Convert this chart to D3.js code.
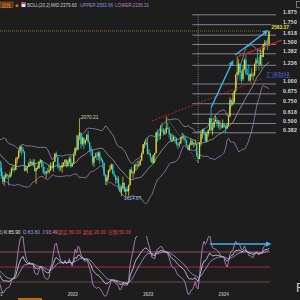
<!DOCTYPE html>
<html><head><meta charset="utf-8">
<script src="https://cdn.jsdelivr.net/npm/d3@7"></script>
<style>html,body{margin:0;padding:0;background:#1d1d1d;overflow:hidden}svg{display:block}</style>
</head><body><svg id="c" width="300" height="300"></svg>
<script>
// ---------- DATA (weekly gold, USD) ----------
const firstWeekFrom = new Date(2020, 9, 1), lastWeekTo = new Date(2024, 8, 14);
const firstOpen = 1886;
const weekClose = [
 1900,1930,1899,1902,1879, 1951,1889,1871,1788, 1838,1840,1882,1877,
 1895,1849,1828,1856,1848, 1814,1824,1784,1734, 1700,1727,1745,1733, 1729,1744,1777,1777,1769,
 1831,1843,1881,1905, 1891,1877,1764,1781, 1787,1808,1815,1802,1814, 1763,1780,1781,1817,
 1827,1787,1754,1750, 1761,1757,1768,1793,1783, 1818,1865,1846,1792, 1783,1783,1798,1811,1829,
 1797,1818,1835,1791, 1808,1859,1898,1889, 1970,1988,1921,1958, 1925,1945,1974,1931,1897,
 1883,1811,1846,1853, 1851,1871,1840,1827, 1811,1742,1703,1727,1766, 1775,1802,1747,1737,
 1712,1716,1675,1643,1660, 1695,1644,1657,1645, 1681,1771,1751,1755, 1797,1797,1793,1798,1824,
 1865,1920,1926,1928, 1865,1865,1842,1811, 1856,1868,1989,1978,1969, 2007,2004,1983,1990,
 2016,2011,1977,1946, 1948,1961,1958,1921,1919, 1925,1955,1962,1959, 1943,1913,1889,1915,
 1940,1919,1924,1925,1849, 1833,1932,1981,2006, 1992,1940,1981,2002, 2072,2004,2019,2053,2062,
 2045,2049,2029,2018, 2039,2024,2013,2035, 2083,2179,2155,2165,2233, 2329,2344,2392,2337,
 2301,2360,2415,2334,2327, 2293,2333,2322,2326, 2392,2411,2400,2386, 2443,2431,2507,2512,2503,
 2497,2580
];
const weekHigh = [
 1917,1933,1933,1933,1911, 1965,1966,1898,1875, 1848,1875,1896,1907,
 1900,1959,1863,1875,1876, 1875,1855,1825,1815, 1760,1739,1755,1745, 1740,1758,1785,1797,1790,
 1843,1846,1890,1913, 1916,1903,1878,1795, 1790,1818,1834,1823,1832, 1832,1782,1795,1822,
 1834,1827,1809,1787, 1764,1781,1800,1814,1810, 1819,1868,1877,1848, 1809,1793,1815,1815,1832,
 1831,1829,1848,1853, 1813,1865,1902,1974, 1974,2070.21,1950,1966, 1960,1948,1981,1998,1936,
 1910,1884,1849,1870, 1874,1877,1879,1848, 1832,1813,1745,1739,1768, 1794,1807,1802,1765,
 1740,1729,1735,1688,1676, 1730,1682,1669,1671, 1684,1774,1787,1763, 1804,1810,1824,1823,1833,
 1870,1922,1937,1949, 1960,1890,1870,1844, 1858,1870,1994,2009,1987, 2032,2049,2015,2009,
 2081,2048,2022,1985, 1983,1973,1971,1959,1933, 1935,1964,1987,1982, 1970,1948,1915,1925,
 1953,1945,1932,1947,1926, 1851,1934,1997,2009, 2010,1993,1993,2007, 2075,2135,2047,2071,2088,
 2078,2062,2062,2036, 2065,2042,2031,2041, 2088,2195,2185,2223,2236, 2331,2432,2418,2393,
 2352,2378,2422,2450,2364, 2388,2335,2368,2340, 2392,2425,2483,2432, 2477,2432,2509,2531,2526,
 2529,2583.37
];
const weekLow = [
 1848,1873,1885,1894,1860, 1877,1850,1853,1775, 1764,1820,1823,1855,
 1862,1827,1809,1826,1830, 1785,1808,1761,1717, 1687,1676,1718,1716, 1678,1721,1731,1764,1756,
 1768,1808,1835,1870, 1855,1867,1761,1767, 1750,1787,1793,1794,1789, 1758,1688,1772,1775,
 1809,1783,1745,1738, 1721,1745,1747,1763,1770, 1759,1815,1843,1778, 1762,1765,1753,1788,1790,
 1783,1786,1805,1781, 1788,1807,1850,1878, 1885,1950,1895,1910, 1890,1915,1941,1925,1872,
 1851,1798,1787,1840, 1828,1825,1805,1816, 1784,1732,1681,1681,1711, 1754,1771,1745,1727,
 1688,1691,1654,1639,1614.87, 1659,1640,1617,1639, 1617,1677,1747,1721, 1746,1765,1772,1785,1795,
 1824,1860,1896,1911, 1861,1860,1819,1809, 1804,1810,1867,1934,1944, 1949,1992,1969,1975,
 1978,2006,1952,1936, 1932,1940,1925,1910,1893, 1902,1919,1952,1942, 1929,1910,1885,1884,
 1912,1914,1901,1913,1846, 1810,1835,1908,1953, 1970,1932,1932,1965, 1999,1993,1973,2016,2050,
 2024,2013,2002,2010, 2016,2015,1984,2012, 2024,2078,2146,2146,2162, 2228,2326,2325,2291,
 2277,2291,2353,2326,2323, 2287,2287,2311,2293, 2318,2351,2393,2353, 2381,2364,2433,2470,2492,
 2471,2496
];
const yearTicks = ["2021","2022","2023","2024"];
const fibLevels = [0.382,0.5,0.618,0.75,0.875,1,1.236,1.382,1.5,1.618,1.75,1.875];
const fibLabels = ["0.382","0.500","0.618","0.750","0.875","1.000","1.236","1.382","1.500","1.618","1.750","1.875"];
const fibBase = 1810, fibTop = 2273;
const fibSpan = ["2023-09-08","2024-10-17"];
const fibAnchor = ["2023-10-06", 1810, 2678];
const bollHeader = ["BOLL(20,2)","MID:2379.60","UPPER:2563.96","LOWER:2195.31"];
const kdjHeader = ["K:85.90","D:83.80","J:93.49","超买:80.00","超卖:20.00","分割:50.00"];
const kdjLevels = [80,50,20];
const kdjParams = [18,5,5];
const lastPrice = 2583.37;
const redTrend = [["2024-04-12",2432],["2024-11-15",2530]];
const redDash = [["2023-02-25",2056],["2024-08-10",2305]];
const grayLeg = [["2023-05-05",2081],["2023-10-06",1810]];
const arrow1 = [["2023-12-08",2135],["2024-03-24",2413]];
const arrow2 = [["2024-04-02",2443],["2024-09-10",2589]];
const kdjArrow = [["2023-12-01",96],["2024-09-25",96]];

// ---------- SETUP ----------
const weeks = d3.timeFriday.range(firstWeekFrom, lastWeekTo);
if (weeks.length!==weekClose.length||weekHigh.length!==weekClose.length||weekLow.length!==weekClose.length)
  throw new Error("len "+weeks.length+" "+weekClose.length+" "+weekHigh.length+" "+weekLow.length);
const weekOpen = weekClose.map((c,i)=> i===0?firstOpen:weekClose[i-1]);
const P = d3.timeParse("%Y-%m-%d");
const svg = d3.select("#c");
const x = d3.scaleTime().domain([new Date(2022,0,1), new Date(2024,0,1)]).range([65.2,216.1]);
const y = d3.scaleLinear().domain([1810,2583.37]).range([163,31]);
const yk = d3.scaleLinear().domain([20,80]).range([282,252]);

svg.append("rect").attr("width",300).attr("height",300).attr("fill","#1d1d1d");
const defs = svg.append("defs");
defs.append("clipPath").attr("id","mc").append("rect").attr("x",0).attr("y",9).attr("width",300).attr("height",214);
defs.append("clipPath").attr("id","kc").append("rect").attr("x",0).attr("y",236).attr("width",300).attr("height",62);
const main = svg.append("g").attr("clip-path","url(#mc)");
const kp = svg.append("g").attr("clip-path","url(#kc)");

// ---------- BOLL ----------
const boll = [];
for (let i=19;i<weekClose.length;i++){
  const s = weekClose.slice(i-19,i+1);
  const m = d3.mean(s);
  const sd = Math.sqrt(d3.mean(s,v=>(v-m)*(v-m)));
  boll.push({d:weeks[i],mid:m,up:m+2*sd,lo:m-2*sd});
}
[["up","#8e92b4"],["mid","#a4a4a4"],["lo","#a27cb4"]].forEach(([k,c])=>{
  main.append("path").datum(boll).attr("fill","none").attr("stroke",c).attr("stroke-width",0.8)
    .attr("d",d3.line().x(d=>x(d.d)).y(d=>y(d[k])));
});

// ---------- Fibonacci ----------
const fx0 = x(P(fibSpan[0])), fx1 = x(P(fibSpan[1]));
fibLevels.forEach((L,i)=>{
  const yy = y(fibBase + L*(fibTop-fibBase));
  main.append("line").attr("x1",fx0).attr("x2",fx1).attr("y1",yy).attr("y2",yy)
    .attr("stroke","#8e8e98").attr("stroke-width",0.9);
});
main.append("line").attr("x1",x(P(fibAnchor[0]))).attr("x2",x(P(fibAnchor[0])))
  .attr("y1",y(fibAnchor[1])).attr("y2",y(fibAnchor[2]))
  .attr("stroke","#a0a0a0").attr("stroke-width",0.7).attr("stroke-dasharray","1,1.2");
main.append("line").attr("x1",x(P(grayLeg[0][0]))).attr("y1",y(grayLeg[0][1]))
  .attr("x2",x(P(grayLeg[1][0]))).attr("y2",y(grayLeg[1][1]))
  .attr("stroke","#8a8a8a").attr("stroke-width",0.6).attr("stroke-dasharray","1.5,1");

// ---------- current price line ----------
main.append("line").attr("x1",0).attr("x2",272).attr("y1",y(lastPrice)).attr("y2",y(lastPrice))
  .attr("stroke","#a8783a").attr("stroke-width",0.8).attr("stroke-dasharray","1,1");

// ---------- candles ----------
const cw = 1.2;
weeks.forEach((d,i)=>{
  const cx = x(d); if (cx<-3||cx>300) return;
  const o=weekOpen[i], c=weekClose[i];
  const hi=Math.max(weekHigh[i],o,c), lo=Math.min(weekLow[i],o,c);
  const col = c>=o ? "#dcdc3a" : "#2ccfdc";
  main.append("line").attr("x1",cx).attr("x2",cx).attr("y1",y(hi)).attr("y2",y(lo))
    .attr("stroke",col).attr("stroke-width",0.7);
  main.append("rect").attr("x",cx-cw/2).attr("width",cw)
    .attr("y",y(Math.max(o,c))).attr("height",Math.max(0.8,Math.abs(y(o)-y(c)))).attr("fill",col);
});

// high / low labels
const iH = weekHigh.indexOf(2070.21), iL = weekLow.indexOf(1614.87);
main.append("line").attr("x1",x(weeks[iH])).attr("x2",x(weeks[iH])+1.5).attr("y1",y(weekHigh[iH])).attr("y2",y(weekHigh[iH]))
  .attr("stroke","#c8c8a0").attr("stroke-width",0.5);
main.append("text").attr("x",x(weeks[iH])+1.6).attr("y",y(weekHigh[iH])+0.8)
  .attr("font-family","Liberation Sans, Arial").attr("font-size",4.8).attr("fill","#dcdca0").text(d3.format(".2f")(weekHigh[iH]));
main.append("text").attr("x",x(weeks[iL])+2.6).attr("y",y(weekLow[iL])+3.2)
  .attr("font-family","Liberation Sans, Arial").attr("font-size",4.8).attr("fill","#84c8dc").text(d3.format(".2f")(weekLow[iL]));

// ---------- trend lines & arrows ----------
function seg(g,pts,col,w,dash){
  const l=g.append("line").attr("x1",x(P(pts[0][0]))).attr("y1",y(pts[0][1]))
    .attr("x2",x(P(pts[1][0]))).attr("y2",y(pts[1][1])).attr("stroke",col).attr("stroke-width",w);
  if(dash) l.attr("stroke-dasharray",dash);
}
function arrow(g,pts,ys,col){
  const x1=x(P(pts[0][0])),y1=ys(pts[0][1]),x2=x(P(pts[1][0])),y2=ys(pts[1][1]);
  const a=Math.atan2(y2-y1,x2-x1), L=5.5, Wd=2.6;
  const bx=x2-L*Math.cos(a), by=y2-L*Math.sin(a);
  g.append("line").attr("x1",x1).attr("y1",y1).attr("x2",bx).attr("y2",by).attr("stroke",col).attr("stroke-width",1.4);
  g.append("polygon").attr("points",[[x2,y2],[bx-Wd*Math.sin(a),by+Wd*Math.cos(a)],[bx+Wd*Math.sin(a),by-Wd*Math.cos(a)]].map(p=>p.join(",")).join(" "))
    .attr("fill",col);
}
seg(main,redDash,"#c42a2a",0.9,"2,1.5");
seg(main,redTrend,"#e41e1e",1.1);
arrow(main,arrow1,y,"#3cb4e6");
arrow(main,arrow2,y,"#3cb4e6");

// 汇通 label
svg.append("text").attr("x",266).attr("y",77.2).attr("font-family","Noto Sans CJK SC").attr("font-size",6)
  .attr("fill","#5252cc").text("汇通财经");

// fib labels
fibLevels.forEach((L,i)=>{
  const yy = y(fibBase + L*(fibTop-fibBase));
  svg.append("text").attr("x",283).attr("y",yy-0.6).attr("font-family","Liberation Sans, Arial")
    .attr("font-size",5.2).attr("font-weight","bold").attr("letter-spacing",0.2).attr("fill","#d8d8d8").text(fibLabels[i]);
});
// last price label
svg.append("rect").attr("x",271).attr("y",y(lastPrice)-6.8).attr("width",20).attr("height",5.6).attr("fill","#2c2c1a");
svg.append("text").attr("x",271.5).attr("y",y(lastPrice)-2.2).attr("font-family","Liberation Sans, Arial")
  .attr("font-size",4.8).attr("font-weight","bold").attr("fill","#d4d45a").text(d3.format(".2f")(lastPrice));

// ---------- header ----------
svg.append("rect").attr("x",0).attr("y",2).attr("width",13).attr("height",5.5).attr("fill","#5a3210").attr("stroke","#c8681c").attr("stroke-width",0.5);
svg.append("text").attr("x",1.5).attr("y",6.5).attr("font-family","Noto Sans CJK SC").attr("font-size",4.6).attr("fill","#f09030").text("周线");
svg.append("text").attr("x",15).attr("y",7).attr("font-family","DejaVu Sans").attr("font-size",4.5).attr("fill","#d07020").text("◆");
svg.append("rect").attr("x",21.5).attr("y",2.5).attr("width",4).attr("height",4.5).attr("fill","#e8e8f0");
svg.append("rect").attr("x",21.5).attr("y",2.5).attr("width",4).attr("height",1.6).attr("fill","#d04050");
const hx=[27,51,80,115], hc=["#c8c8c8","#d0d0d0","#8c96d0","#c07ac8"];
bollHeader.forEach((t,i)=>svg.append("text").attr("x",hx[i]).attr("y",7).attr("font-family","Liberation Sans, Arial")
  .attr("font-size",4.5).attr("fill",hc[i]).text(t));
svg.append("rect").attr("x",296.5).attr("y",1.5).attr("width",5).attr("height",6).attr("fill","none").attr("stroke","#b0b0b0").attr("stroke-width",0.6);

// ---------- KDJ ----------
const kdj=[]; let K=50,D=50; const [kN,kM1,kM2]=kdjParams;
for (let i=0;i<weekClose.length;i++){
  const s=Math.max(0,i-kN+1);
  const lo=d3.min(weekLow.slice(s,i+1)), hi=d3.max(weekHigh.slice(s,i+1));
  const rsv = hi>lo ? (weekClose[i]-lo)/(hi-lo)*100 : 50;
  K=((kM1-1)*K+rsv)/kM1; D=((kM2-1)*D+K)/kM2;
  kdj.push({d:weeks[i],K:K,D:D,J:3*K-2*D});
}
const kcol=["#9c4c5e","#a42848","#6e4646"];
kdjLevels.forEach((v,i)=>kp.append("line").attr("x1",0).attr("x2",270).attr("y1",yk(v)).attr("y2",yk(v))
  .attr("stroke",kcol[i]).attr("stroke-width",1));
[["D","#a0a8dc"],["K","#e0e0ea"],["J","#c88ed4"]].forEach(([k,c])=>{
  kp.append("path").datum(kdj).attr("fill","none").attr("stroke",c).attr("stroke-width",0.8)
    .attr("d",d3.line().x(d=>x(d.d)).y(d=>yk(d[k])));
});
arrow(kp,kdjArrow,yk,"#3cb4e6");

svg.append("text").attr("x",3).attr("y",233.5).attr("text-anchor","end").attr("font-family","Liberation Sans, Arial")
  .attr("font-size",4.8).attr("fill","#b0b0b0").text("KDJ(9,3,3)");
const kx=[4,23,42,58,83,108], kc2=["#e0e0e0","#98a0e0","#c890d8","#e04848","#e04848","#e04848"];
kdjHeader.forEach((t,i)=>svg.append("text").attr("x",kx[i]).attr("y",233.5).attr("font-family","Liberation Sans, Noto Sans CJK SC")
  .attr("font-size",4.8).attr("fill",kc2[i]).text(t));

// ---------- x axis labels ----------
yearTicks.forEach(t=>svg.append("text").attr("x",x(new Date(+t,0,1))+2.5).attr("y",295.5)
  .attr("font-family","Liberation Sans, Arial").attr("font-weight","bold").attr("font-size",4.6).attr("fill","#a8a8a8").text(t));
svg.append("rect").attr("x",18).attr("y",298).attr("width",24).attr("height",3).attr("fill","#c06a20");
svg.append("text").attr("x",296).attr("y",292).attr("font-family","Liberation Sans, Arial").attr("font-size",13).attr("fill","#cccccc").text("FX");
</script></body></html>
